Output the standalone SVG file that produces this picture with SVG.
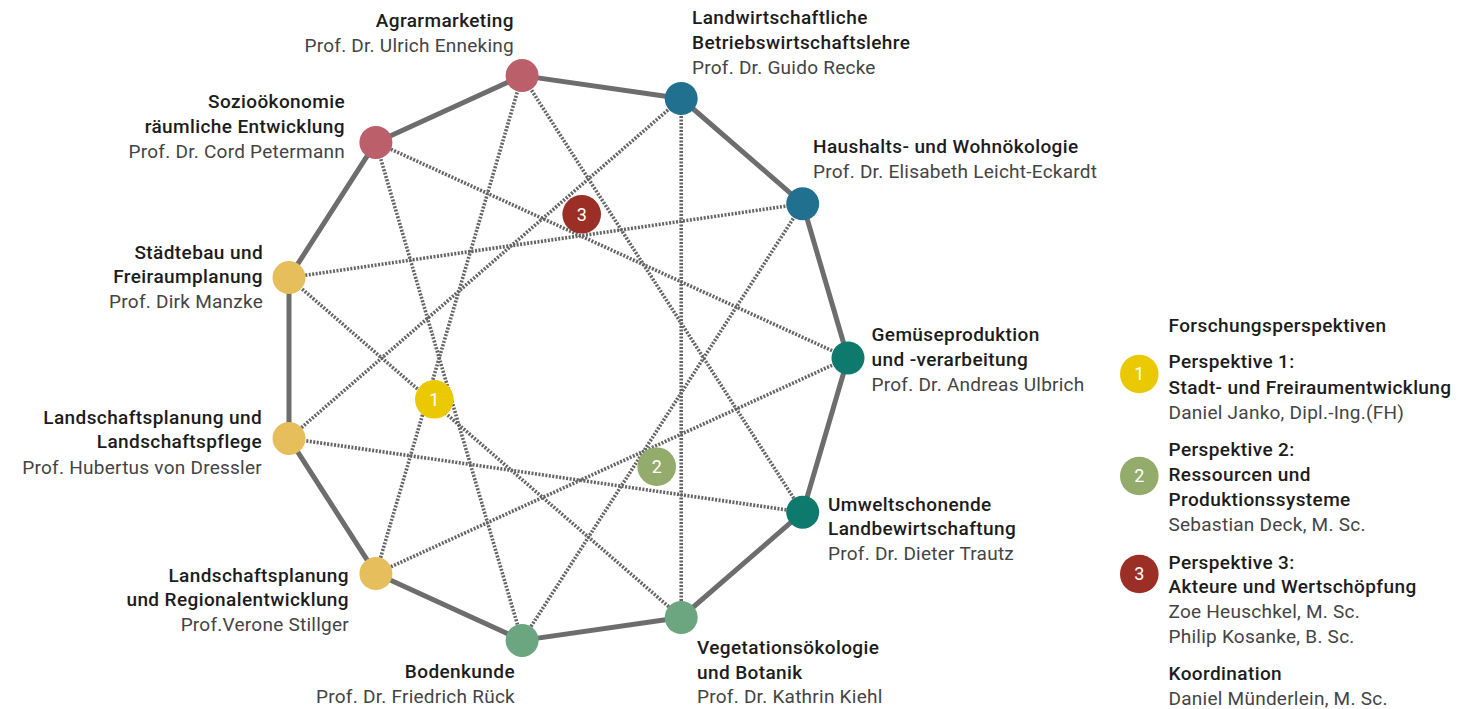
<svg xmlns="http://www.w3.org/2000/svg" width="1484" height="709" viewBox="0 0 1484 709">
<style>
text{font-family:Roboto,"Liberation Sans",sans-serif;font-size:19px}
.t{font-weight:500;fill:#1c1c1c;letter-spacing:0.4px}
.n{font-weight:400;fill:#444444;letter-spacing:0.25px}
.r{text-anchor:end}
.num{fill:#ffffff;text-anchor:middle;font-size:18px;font-weight:400}
.solid{stroke:#6d6d6d;stroke-width:5;fill:none;stroke-linejoin:round}
.dot{stroke:#646464;stroke-width:3.6;stroke-dasharray:2 1.5;fill:none}
.pink{fill:#bb5f6b}.blue{fill:#22708f}.teal{fill:#0e7a6d}.green{fill:#6ba680}.yellow{fill:#e6bf5c}
.p1{fill:#ebc900}.p2{fill:#93ac6b}.p3{fill:#9c2f25}
</style>
<rect width="1484" height="709" fill="#ffffff"/>
<g id="connectors">
<polygon class="solid" points="848,358 802.7,203.8 681.2,98.5 522.1,75.6 375.9,142.4 289,277.6 289,438.4 375.9,573.6 522.1,640.4 681.2,617.5 802.7,512.2"/>
<line class="dot" x1="848" y1="358" x2="375.9" y2="142.4"/>
<line class="dot" x1="848" y1="358" x2="375.9" y2="573.6"/>
<line class="dot" x1="802.7" y1="203.8" x2="289" y2="277.6"/>
<line class="dot" x1="802.7" y1="203.8" x2="522.1" y2="640.4"/>
<line class="dot" x1="681.2" y1="98.5" x2="289" y2="438.4"/>
<line class="dot" x1="681.2" y1="98.5" x2="681.2" y2="617.5"/>
<line class="dot" x1="522.1" y1="75.6" x2="375.9" y2="573.6"/>
<line class="dot" x1="522.1" y1="75.6" x2="802.7" y2="512.2"/>
<line class="dot" x1="375.9" y1="142.4" x2="522.1" y2="640.4"/>
<line class="dot" x1="289" y1="277.6" x2="681.2" y2="617.5"/>
<line class="dot" x1="289" y1="438.4" x2="802.7" y2="512.2"/>
</g>
<g id="node-agrarmarketing">
<circle class="pink" cx="522.1" cy="75.6" r="16.5"/>
<text class="t r" x="514" y="27">Agrarmarketing</text>
<text class="n r" x="514" y="52">Prof. Dr. Ulrich Enneking</text>
</g>
<g id="node-lbwl">
<circle class="blue" cx="681.2" cy="98.5" r="16.5"/>
<text class="t" x="692" y="24">Landwirtschaftliche</text>
<text class="t" x="692" y="49">Betriebswirtschaftslehre</text>
<text class="n" x="692" y="74">Prof. Dr. Guido Recke</text>
</g>
<g id="node-haushalt">
<circle class="blue" cx="802.7" cy="203.8" r="16.5"/>
<text class="t" x="813" y="153">Haushalts- und Wohnökologie</text>
<text class="n" x="813" y="178">Prof. Dr. Elisabeth Leicht-Eckardt</text>
</g>
<g id="node-gemuese">
<circle class="teal" cx="848" cy="358" r="16.5"/>
<text class="t" x="871.5" y="341">Gemüseproduktion</text>
<text class="t" x="871.5" y="366">und -verarbeitung</text>
<text class="n" x="871.5" y="391">Prof. Dr. Andreas Ulbrich</text>
</g>
<g id="node-umwelt">
<circle class="teal" cx="802.7" cy="512.2" r="16.5"/>
<text class="t" x="828" y="511">Umweltschonende</text>
<text class="t" x="828" y="535">Landbewirtschaftung</text>
<text class="n" x="828" y="560">Prof. Dr. Dieter Trautz</text>
</g>
<g id="node-vegetation">
<circle class="green" cx="681.2" cy="617.5" r="16.5"/>
<text class="t" x="697" y="654">Vegetationsökologie</text>
<text class="t" x="697" y="679">und Botanik</text>
<text class="n" x="697" y="703">Prof. Dr. Kathrin Kiehl</text>
</g>
<g id="node-boden">
<circle class="green" cx="522.1" cy="640.4" r="16.5"/>
<text class="t r" x="515" y="678">Bodenkunde</text>
<text class="n r" x="515" y="703">Prof. Dr. Friedrich Rück</text>
</g>
<g id="node-lp-regional">
<circle class="yellow" cx="375.9" cy="573.6" r="16.5"/>
<text class="t r" x="349" y="582">Landschaftsplanung</text>
<text class="t r" x="349" y="606">und Regionalentwicklung</text>
<text class="n r" x="349" y="631">Prof.Verone Stillger</text>
</g>
<g id="node-lp-pflege">
<circle class="yellow" cx="289" cy="438.4" r="16.5"/>
<text class="t r" x="262" y="424">Landschaftsplanung und</text>
<text class="t r" x="262" y="448">Landschaftspflege</text>
<text class="n r" x="262" y="474">Prof. Hubertus von Dressler</text>
</g>
<g id="node-staedtebau">
<circle class="yellow" cx="289" cy="277.6" r="16.5"/>
<text class="t r" x="263" y="259">Städtebau und</text>
<text class="t r" x="263" y="283">Freiraumplanung</text>
<text class="n r" x="263" y="308">Prof. Dirk Manzke</text>
</g>
<g id="node-sozio">
<circle class="pink" cx="375.9" cy="142.4" r="16.5"/>
<text class="t r" x="345" y="108">Sozioökonomie</text>
<text class="t r" x="345" y="133">räumliche Entwicklung</text>
<text class="n r" x="345" y="158">Prof. Dr. Cord Petermann</text>
</g>
<g id="perspective-1">
<circle class="p1" cx="434.3" cy="399.3" r="19.3"/>
<text class="num" x="434.3" y="405.5">1</text>
</g>
<g id="perspective-2">
<circle class="p2" cx="656.7" cy="466.7" r="19.3"/>
<text class="num" x="656.7" y="473">2</text>
</g>
<g id="perspective-3">
<circle class="p3" cx="581.7" cy="214.3" r="19.3"/>
<text class="num" x="581.7" y="220.5">3</text>
</g>
<g id="legend">
<text class="t" x="1168.5" y="332">Forschungsperspektiven</text>
<circle class="p1" cx="1139.3" cy="374" r="19.3"/>
<text class="num" x="1139.3" y="380">1</text>
<text class="t" x="1168.5" y="368">Perspektive 1:</text>
<text class="t" x="1168.5" y="394">Stadt- und Freiraumentwicklung</text>
<text class="n" x="1168.5" y="419">Daniel Janko, Dipl.-Ing.(FH)</text>
<circle class="p2" cx="1139.3" cy="476" r="19.3"/>
<text class="num" x="1139.3" y="482">2</text>
<text class="t" x="1168.5" y="456">Perspektive 2:</text>
<text class="t" x="1168.5" y="481">Ressourcen und</text>
<text class="t" x="1168.5" y="506">Produktionssysteme</text>
<text class="n" x="1168.5" y="531">Sebastian Deck, M. Sc.</text>
<circle class="p3" cx="1139.3" cy="574" r="19.3"/>
<text class="num" x="1139.3" y="580">3</text>
<text class="t" x="1168.5" y="569">Perspektive 3:</text>
<text class="t" x="1168.5" y="593">Akteure und Wertschöpfung</text>
<text class="n" x="1168.5" y="618">Zoe Heuschkel, M. Sc.</text>
<text class="n" x="1168.5" y="643">Philip Kosanke, B. Sc.</text>
<text class="t" x="1168.5" y="680">Koordination</text>
<text class="n" x="1168.5" y="705">Daniel Münderlein, M. Sc.</text>
</g>
</svg>
